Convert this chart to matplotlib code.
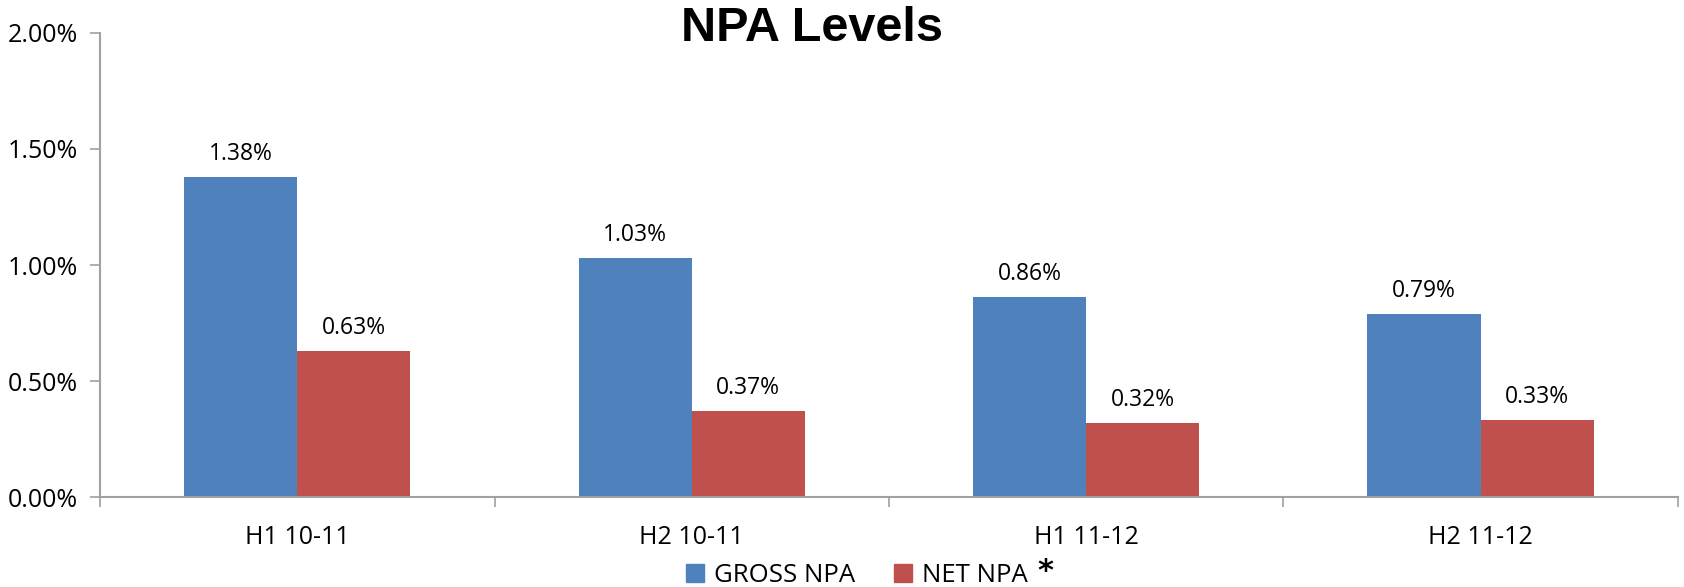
import matplotlib
matplotlib.use("Agg")
import matplotlib.pyplot as plt
from matplotlib.patches import Patch
import numpy as np

categories = ["H1 10-11", "H2 10-11", "H1 11-12", "H2 11-12"]
gross_npa = [1.38, 1.03, 0.86, 0.79]
net_npa = [0.63, 0.37, 0.32, 0.33]
y_ticks = [0.0, 0.5, 1.0, 1.5, 2.0]

blue = "#4F81BD"
red = "#C0504D"
axis_grey = "#A0A0A0"
body_font = "Open Sans"

fig = plt.figure(figsize=(16.84, 5.87), dpi=100)
ax = fig.add_axes([0.0594, 0.1533, 0.9370, 0.7905])

x = np.arange(len(categories))
w = 0.287
b1 = ax.bar(x - w / 2, gross_npa, w, color=blue)
b2 = ax.bar(x + w / 2, net_npa, w, color=red)

for bars, vals in ((b1, gross_npa), (b2, net_npa)):
    for rect, v in zip(bars, vals):
        ax.annotate(f"{v:.2f}%", (rect.get_x() + rect.get_width() / 2, v),
                    xytext=(0, 8), textcoords="offset points",
                    ha="center", va="bottom", fontsize=16.5,
                    family=body_font, color="black")

ax.set_xlim(-0.5, len(categories) - 0.5)
ax.set_ylim(0, 2.0)
ax.set_yticks(y_ticks)
ax.set_yticklabels([f"{t:.2f}%" for t in y_ticks], family=body_font, fontsize=18)

# category boundaries get tick marks, labels sit at the centres
ax.set_xticks(np.arange(-0.5, len(categories), 1.0))
ax.set_xticklabels([])
ax.set_xticks(x, minor=True)
ax.set_xticklabels(categories, minor=True, family=body_font, fontsize=18)
ax.tick_params(axis="x", which="major", length=7, color=axis_grey, width=1.2)
ax.tick_params(axis="x", which="minor", length=0, pad=20)
ax.tick_params(axis="y", length=7, color=axis_grey, width=1.2, pad=9)

for side in ("top", "right"):
    ax.spines[side].set_visible(False)
for side in ("left", "bottom"):
    ax.spines[side].set_color(axis_grey)
    ax.spines[side].set_linewidth(1.5)

fig.text(0.482, 0.952, "NPA Levels", ha="center", va="center",
         family="Liberation Sans", fontweight="bold", fontsize=35)

handles = [Patch(color=blue, label="GROSS NPA"), Patch(color=red, label="NET NPA")]
fig.legend(handles=handles, loc="center", bbox_to_anchor=(0.509, 0.019),
           ncol=2, frameon=False, handlelength=0.7, handleheight=0.7,
           handletextpad=0.4, columnspacing=1.5,
           prop={"family": body_font, "size": 18.5})
fig.text(0.621, 0.027, "*", ha="center", va="center", fontsize=22,
         fontweight="bold", family="DejaVu Sans")

fig.savefig("out.png", dpi=100)
